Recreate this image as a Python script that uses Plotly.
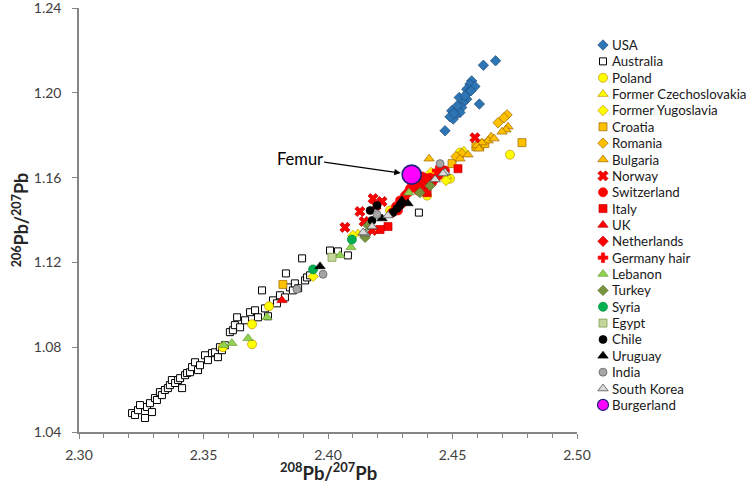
import plotly.graph_objects as go

W, H = 752, 494

# ---------------- data (208Pb/207Pb , 206Pb/207Pb) ----------------
usa_x = [2.4673, 2.4624, 2.4577, 2.4570, 2.4590, 2.4557, 2.4563, 2.4527, 2.4557, 2.4543, 2.4608,
         2.4537, 2.4517, 2.4497, 2.4530, 2.4510, 2.4503, 2.4490, 2.4470, 2.4574, 2.4550, 2.4519, 2.4506]
usa_y = [1.2151, 1.2130, 1.2056, 1.2041, 1.2030, 1.2017, 1.2001, 1.1978, 1.1970, 1.1954, 1.1947,
         1.1931, 1.1923, 1.1915, 1.1907, 1.1892, 1.1876, 1.1887, 1.1821, 1.2009, 1.1986, 1.1939, 1.1903]

australia_x = [2.3213, 2.3225, 2.3237, 2.3245, 2.3265, 2.3273, 2.3285, 2.3293, 2.3305, 2.3313,
               2.3325, 2.3333, 2.3345, 2.3357, 2.3365, 2.3373, 2.3386, 2.3398, 2.3406, 2.3414,
               2.3426, 2.3434, 2.3446, 2.3454, 2.3466, 2.3478, 2.3486, 2.3506, 2.3518, 2.3534,
               2.3546, 2.3558, 2.3566, 2.3574, 2.3586, 2.3606, 2.3618, 2.3626, 2.3635, 2.3647,
               2.3667, 2.3687, 2.3707, 2.3719, 2.3735, 2.3747, 2.3759, 2.3779, 2.3795, 2.3807,
               2.3827, 2.3831, 2.3847, 2.3859, 2.3867, 2.3880, 2.3896, 2.3908, 2.3916, 2.3928,
               2.4008, 2.4040, 2.4080, 2.4365]
australia_y = [1.0489, 1.0480, 1.0503, 1.0527, 1.0466, 1.0518, 1.0536, 1.0494, 1.0560, 1.0551,
               1.0588, 1.0574, 1.0598, 1.0607, 1.0621, 1.0645, 1.0631, 1.0645, 1.0654, 1.0607,
               1.0668, 1.0678, 1.0682, 1.0706, 1.0729, 1.0692, 1.0715, 1.0762, 1.0739, 1.0772,
               1.0776, 1.0753, 1.0800, 1.0786, 1.0809, 1.0871, 1.0880, 1.0904, 1.0941, 1.0894,
               1.0927, 1.0965, 1.0974, 1.0941, 1.1068, 1.0983, 1.0946, 1.1021, 1.1007, 1.1045,
               1.1035, 1.1148, 1.1082, 1.1068, 1.1101, 1.1078, 1.1219, 1.1115, 1.1129, 1.1139,
               1.1256, 1.1252, 1.1233, 1.1435]

poland_x = [2.4731, 2.4530, 2.4490, 2.4398, 2.4249, 2.3763, 2.3695, 2.3695, 2.3578]
poland_y = [1.1708, 1.1718, 1.1595, 1.1515, 1.1445, 1.0993, 1.0908, 1.0814, 1.0800]

czech_x = [2.4120, 2.4546, 2.4478]
czech_y = [1.1336, 1.1727, 1.1605]

yugo_x = [2.3940, 2.4100, 2.4414, 2.4474]
yugo_y = [1.1134, 1.1327, 1.1624, 1.1586]

croatia_x = [2.4779, 2.4610, 2.4630, 2.4594, 2.4498, 2.3819]
croatia_y = [1.1765, 1.1751, 1.1760, 1.1746, 1.1666, 1.1096]

romania_x = [2.4719, 2.4707, 2.4683, 2.4538, 2.4514]
romania_y = [1.1896, 1.1882, 1.1859, 1.1713, 1.1699]

bulgaria_x = [2.4723, 2.4715, 2.4699, 2.4655, 2.4643, 2.4618, 2.4598, 2.4606, 2.4667, 2.4562, 2.4530, 2.4406]
bulgaria_y = [1.1840, 1.1826, 1.1816, 1.1793, 1.1774, 1.1765, 1.1751, 1.1736, 1.1784, 1.1708, 1.1689, 1.1689]

norway_x = [2.4590, 2.4181, 2.4217, 2.4193, 2.4128, 2.4145, 2.4068, 2.4177]
norway_y = [1.1788, 1.1501, 1.1487, 1.1468, 1.1440, 1.1393, 1.1365, 1.1351]

swiss_x = [2.4470, 2.4450, 2.4442, 2.4430, 2.4410, 2.4418, 2.4390, 2.4402, 2.4378, 2.4369, 2.4361,
           2.4353, 2.4349, 2.4337, 2.4329, 2.4321, 2.4309, 2.4297, 2.4289, 2.4281, 2.4273, 2.4257]
swiss_y = [1.1633, 1.1624, 1.1609, 1.1595, 1.1600, 1.1576, 1.1572, 1.1562, 1.1605, 1.1586, 1.1539,
           1.1595, 1.1567, 1.1576, 1.1548, 1.1529, 1.1515, 1.1478, 1.1492, 1.1445, 1.1464, 1.1435]

italy_x = [2.4522, 2.4398, 2.4241, 2.4209]
italy_y = [1.1642, 1.1529, 1.1369, 1.1355]

uk_x = [2.3815, 2.4369, 2.4410]
uk_y = [1.1021, 1.1558, 1.1586]

nl_x = [2.4394, 2.4305, 2.4458]
nl_y = [1.1595, 1.1501, 1.1642]

germany_x = [2.4438, 2.4341]
germany_y = [1.1633, 1.1562]

lebanon_x = [2.4325, 2.3582, 2.3614, 2.3679, 2.3755, 2.4048, 2.4092, 2.4149]
lebanon_y = [1.1529, 1.0809, 1.0819, 1.0842, 1.0941, 1.1233, 1.1271, 1.1336]

turkey_x = [2.4369, 2.4410, 2.4161, 2.4149]
turkey_y = [1.1529, 1.1562, 1.1374, 1.1318]

syria_x = [2.3940, 2.4096]
syria_y = [1.1167, 1.1308]

egypt_x = [2.4016]
egypt_y = [1.1224]

chile_x = [2.4277, 2.4289, 2.4261, 2.4197, 2.4169, 2.4177]
chile_y = [1.1454, 1.1468, 1.1435, 1.1468, 1.1445, 1.1398]

uruguay_x = [2.4321, 2.4297, 2.4217, 2.3968]
uruguay_y = [1.1478, 1.1492, 1.1407, 1.1181]

india_x = [2.4450, 2.4197, 2.3980, 2.3875]
india_y = [1.1666, 1.1426, 1.1144, 1.1073]

korea_x = [2.4470, 2.4462, 2.4430, 2.4177, 2.4149, 2.4241, 2.4141]
korea_y = [1.1624, 1.1619, 1.1591, 1.1369, 1.1336, 1.1421, 1.1341]

burgerland_x = [2.4336]
burgerland_y = [1.1614]

categories = ["USA", "Australia", "Poland", "Former Czechoslovakia", "Former Yugoslavia",
              "Croatia", "Romania", "Bulgaria", "Norway", "Switzerland", "Italy", "UK",
              "Netherlands", "Germany hair", "Lebanon", "Turkey", "Syria", "Egypt", "Chile",
              "Uruguay", "India", "South Korea", "Burgerland"]

series_data = {
    "USA": (usa_x, usa_y), "Australia": (australia_x, australia_y),
    "Poland": (poland_x, poland_y), "Former Czechoslovakia": (czech_x, czech_y),
    "Former Yugoslavia": (yugo_x, yugo_y), "Croatia": (croatia_x, croatia_y),
    "Romania": (romania_x, romania_y), "Bulgaria": (bulgaria_x, bulgaria_y),
    "Norway": (norway_x, norway_y), "Switzerland": (swiss_x, swiss_y),
    "Italy": (italy_x, italy_y), "UK": (uk_x, uk_y), "Netherlands": (nl_x, nl_y),
    "Germany hair": (germany_x, germany_y), "Lebanon": (lebanon_x, lebanon_y),
    "Turkey": (turkey_x, turkey_y), "Syria": (syria_x, syria_y), "Egypt": (egypt_x, egypt_y),
    "Chile": (chile_x, chile_y), "Uruguay": (uruguay_x, uruguay_y), "India": (india_x, india_y),
    "South Korea": (korea_x, korea_y), "Burgerland": (burgerland_x, burgerland_y),
}

x_ticks = [2.30, 2.35, 2.40, 2.45, 2.50]
y_ticks = [1.04, 1.08, 1.12, 1.16, 1.20, 1.24]

# ---------------- styles ----------------
YEL_EDGE = "#BF9000"
OR_EDGE = "#9C6500"
styles = {
    "USA": dict(symbol="diamond", color="#2E75B6", line="#1F4E79", size=8),
    "Australia": dict(symbol="square", color="#FFFFFF", line="#000000", size=7, lw=1),
    "Poland": dict(symbol="circle", color="#FFFF00", line=YEL_EDGE, size=9),
    "Former Czechoslovakia": dict(symbol="triangle-up", color="#FFFF00", line=YEL_EDGE, size=9),
    "Former Yugoslavia": dict(symbol="diamond", color="#FFFF00", line=YEL_EDGE, size=8),
    "Croatia": dict(symbol="square", color="#FFC000", line=OR_EDGE, size=8),
    "Romania": dict(symbol="diamond", color="#FFC000", line=OR_EDGE, size=8),
    "Bulgaria": dict(symbol="triangle-up", color="#FFC000", line=OR_EDGE, size=9),
    "Norway": dict(symbol="x", color="#FF0000", line="#C00000", size=9),
    "Switzerland": dict(symbol="circle", color="#FF0000", line="#FF0000", size=9),
    "Italy": dict(symbol="square", color="#FF0000", line="#C00000", size=8),
    "UK": dict(symbol="triangle-up", color="#FF0000", line="#C00000", size=9),
    "Netherlands": dict(symbol="diamond", color="#FF0000", line="#C00000", size=8),
    "Germany hair": dict(symbol="cross", color="#FF0000", line="#FF0000", size=8),
    "Lebanon": dict(symbol="triangle-up", color="#92D050", line="#6A9E3A", size=9),
    "Turkey": dict(symbol="diamond", color="#77933C", line="#5A7030", size=8),
    "Syria": dict(symbol="circle", color="#00B050", line="#008A3E", size=9),
    "Egypt": dict(symbol="square", color="#C3D69B", line="#77933C", size=8),
    "Chile": dict(symbol="circle", color="#000000", line="#000000", size=8),
    "Uruguay": dict(symbol="triangle-up", color="#000000", line="#000000", size=9),
    "India": dict(symbol="circle", color="#A6A6A6", line="#595959", size=8),
    "South Korea": dict(symbol="triangle-up", color="#D9D9D9", line="#404040", size=9),
    "Burgerland": dict(symbol="circle", color="#FF00FF", line="#1F1F7A", size=19, lw=1.6),
}

FONT = "Lato, 'Open Sans', sans-serif"
AX = "#868686"

fig = go.Figure()
for name in categories:
    xs, ys = series_data[name]
    st = styles[name]
    fig.add_trace(go.Scatter(
        x=xs, y=ys, mode="markers", name=name, showlegend=False,
        marker=dict(symbol=st["symbol"], color=st["color"], size=st["size"],
                    line=dict(color=st["line"], width=st.get("lw", 0.7))),
        xaxis="x", yaxis="y"))

# custom legend (compact rows) drawn on a helper axis at the right
leg_marker_x = 603
leg_text_x = 610
for i, name in enumerate(categories):
    st = styles[name]
    is_big = name == "Burgerland"
    fig.add_trace(go.Scatter(
        x=[leg_marker_x], y=[i], mode="markers", showlegend=False, hoverinfo="skip",
        marker=dict(symbol=st["symbol"], color=st["color"], size=11 if is_big else min(st["size"], 9),
                    line=dict(color=st["line"], width=1.2 if is_big else st.get("lw", 0.7))),
        xaxis="x2", yaxis="y2"))
    fig.add_annotation(x=leg_text_x, y=i, xref="x2", yref="y2", text=name, showarrow=False,
                       xanchor="left", yanchor="middle",
                       font=dict(family=FONT, size=13.3, color="#1a1a1a"))

# Femur annotation
fig.add_annotation(x=burgerland_x[0], y=burgerland_y[0], xref="x", yref="y", text="Femur",
                   showarrow=True, ax=-112, ay=-16, arrowhead=2, arrowsize=1, arrowwidth=1.3,
                   arrowcolor="#000000", standoff=11,
                   font=dict(family=FONT, size=16.5, color="#000000"))

# x-axis title placed exactly under the tick labels
x_dom = [79 / W, 577 / W]
fig.add_annotation(x=(x_dom[0] + x_dom[1]) / 2, y=1 - 471 / H, xref="paper", yref="paper",
                   text="<b><sup>208</sup>Pb/<sup>207</sup>Pb</b>", showarrow=False,
                   xanchor="center", yanchor="middle",
                   font=dict(family=FONT, size=18.5, color="#262626"))

fig.update_layout(
    width=W, height=H, autosize=False,
    margin=dict(l=0, r=0, t=0, b=0),
    paper_bgcolor="white", plot_bgcolor="white",
    font=dict(family=FONT, color="#404040"),
    xaxis=dict(domain=x_dom, range=[2.30, 2.50], tickvals=x_ticks, tickformat=".2f",
               automargin=False,
               showgrid=False, zeroline=False, showline=True, linecolor=AX, linewidth=1.5,
               ticks="outside", ticklen=5, tickcolor=AX, tickwidth=1.2,
               minor=dict(dtick=0.01, tick0=2.30, ticks="outside", ticklen=4, tickcolor=AX, tickwidth=1),
               tickfont=dict(family=FONT, size=14, color="#404040"), ticklabelstandoff=4,
               ticklabeloverflow="allow"),
    yaxis=dict(domain=[1 - 432 / H, 1 - 8 / H], range=[1.04, 1.24], tickvals=y_ticks, tickformat=".2f",
               automargin=False,
               showgrid=False, zeroline=False, showline=True, linecolor=AX, linewidth=1.5,
               ticks="outside", ticklen=5, tickcolor=AX, tickwidth=1.2,
               tickfont=dict(family=FONT, size=14, color="#404040"), ticklabelstandoff=8,
               ticklabeloverflow="allow",
               title=dict(text="<b><sup>206</sup>Pb/<sup>207</sup>Pb</b>",
                          font=dict(family=FONT, size=18, color="#262626"), standoff=0)),
    xaxis2=dict(domain=[0.78, 1.0], range=[0.78 * W, W], visible=False, fixedrange=True),
    yaxis2=dict(domain=[0.0, 1.0], range=[(H - 45) / 16.36, -45 / 16.36], visible=False,
                fixedrange=True),
)

fig.write_html("out.html", config={"displayModeBar": False},
               post_script="document.body.style.margin='0px';")
